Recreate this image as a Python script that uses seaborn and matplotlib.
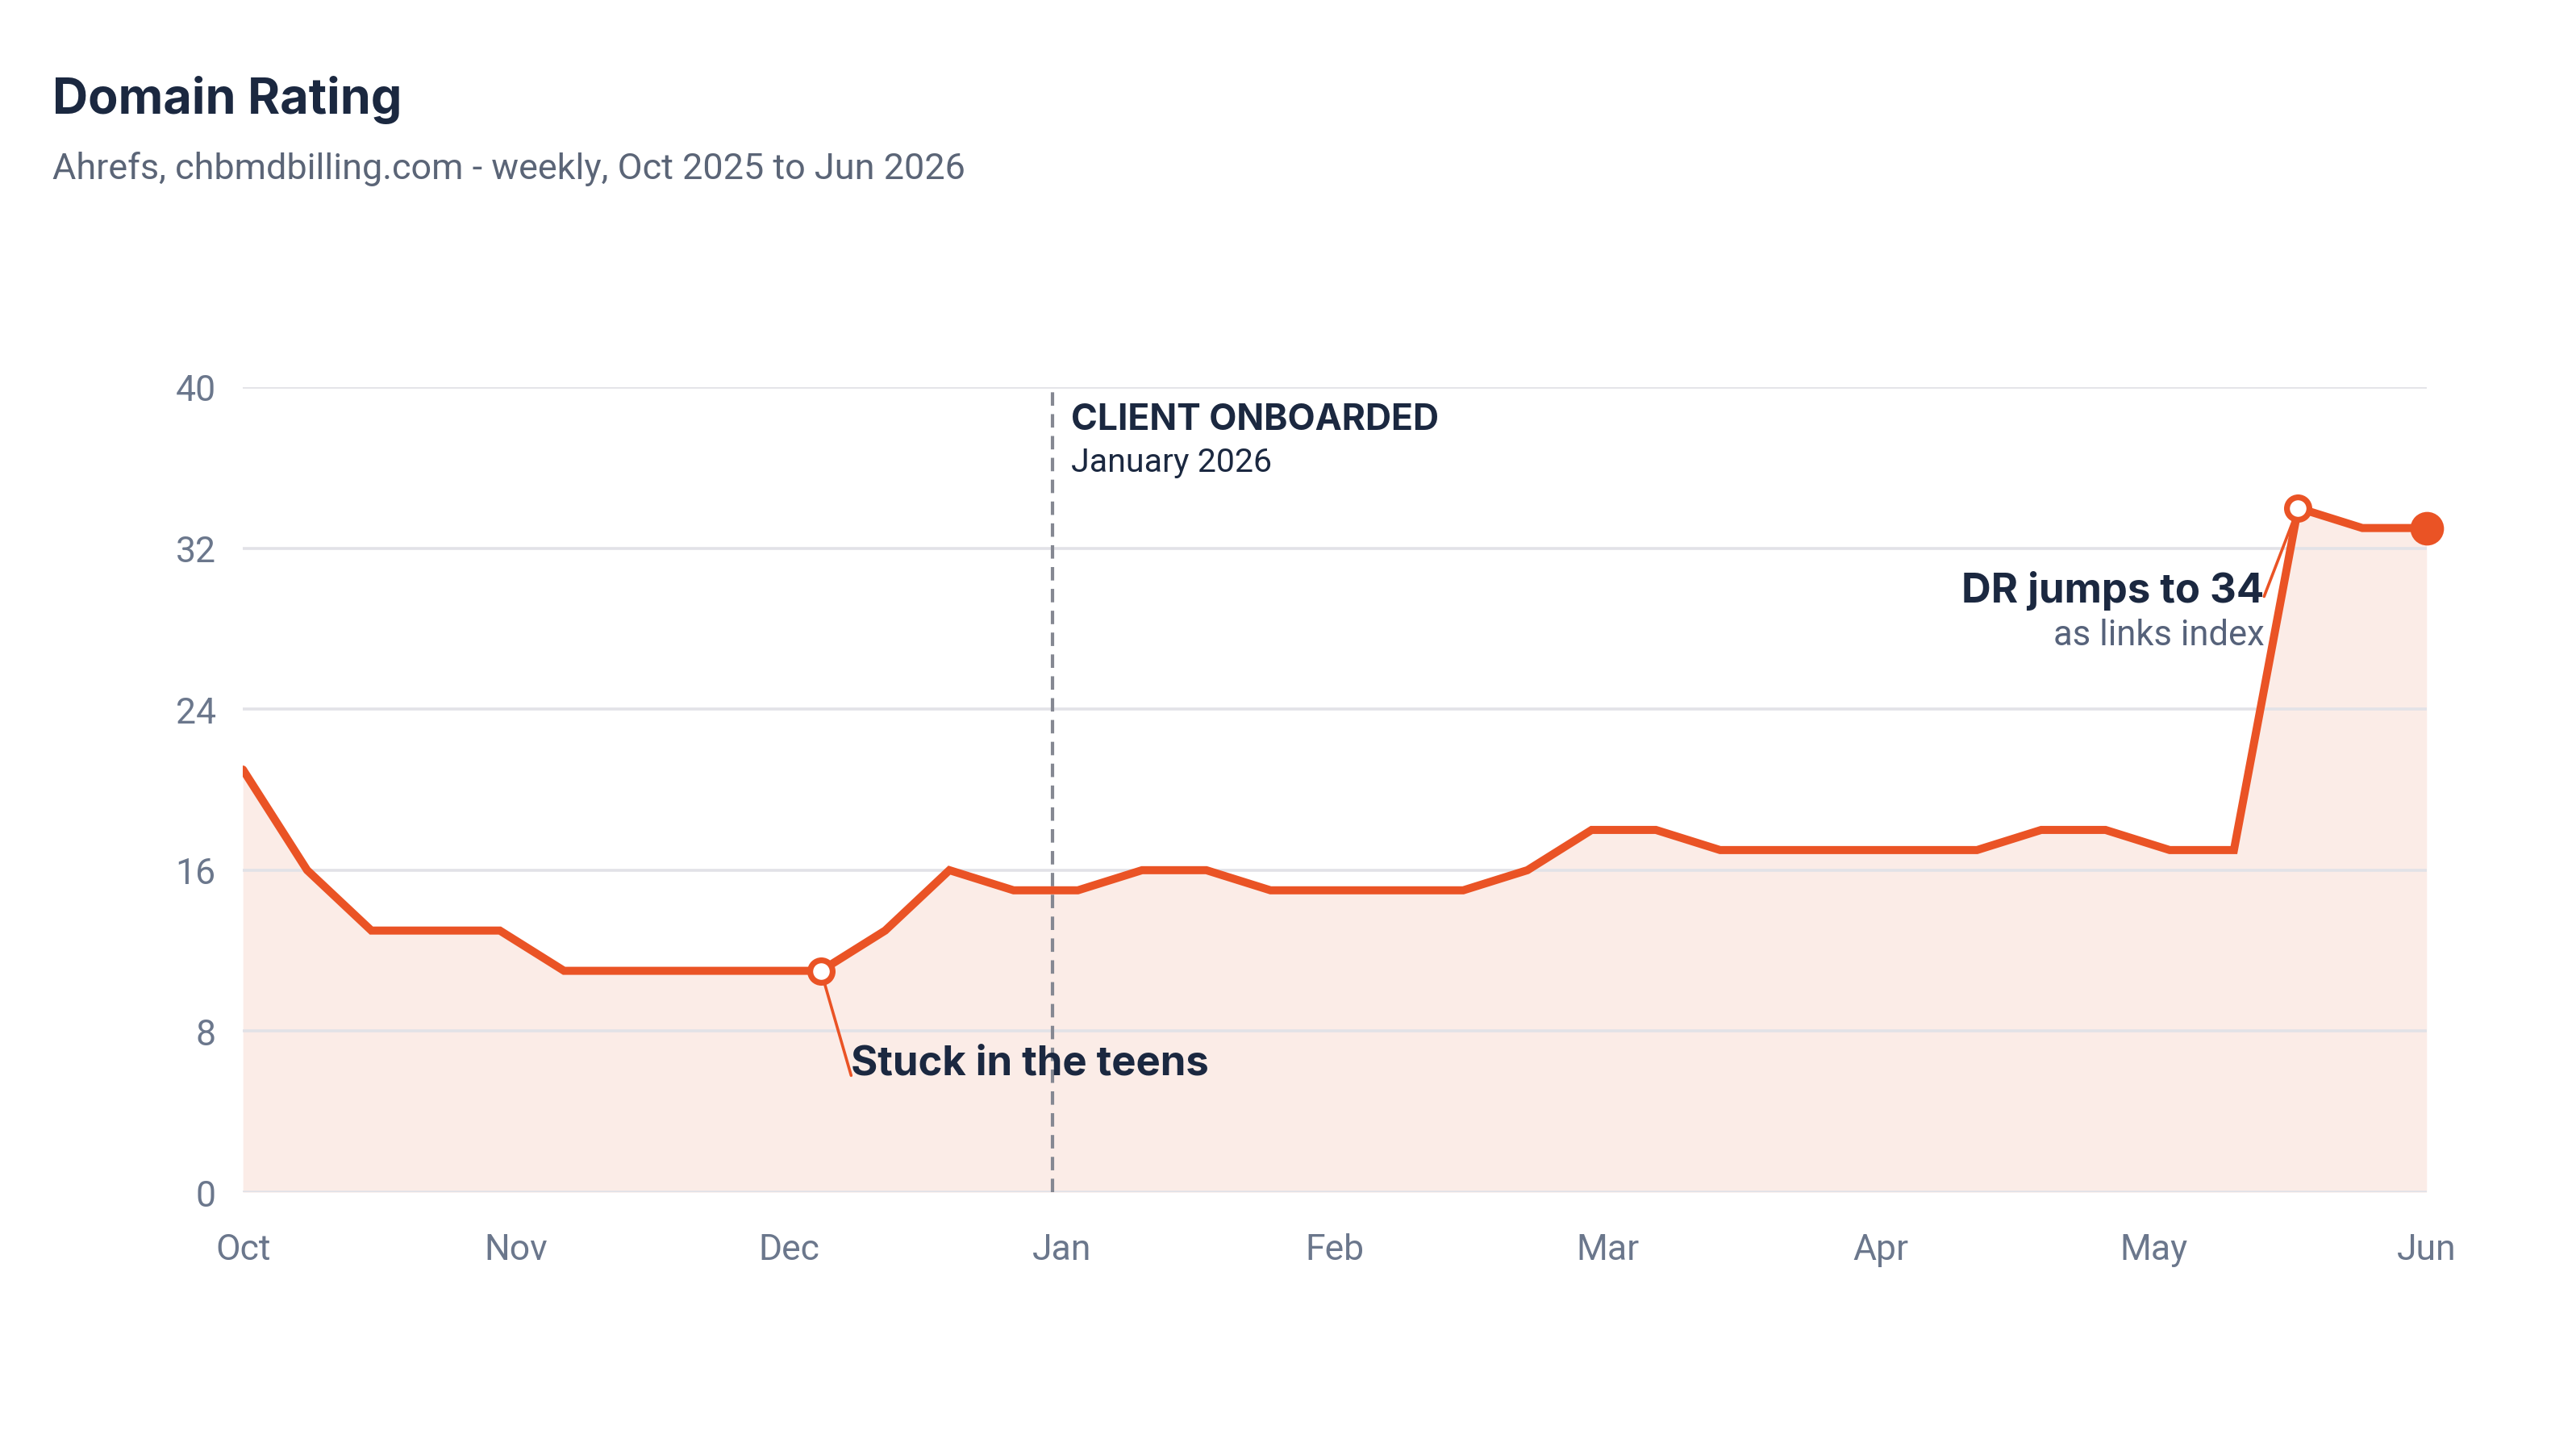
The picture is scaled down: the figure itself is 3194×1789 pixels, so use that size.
import numpy as np
import pandas as pd
import seaborn as sns
import matplotlib.pyplot as plt

# data (weekly Domain Rating, Oct 2025 -> Jun 2026)
dr_values = [21, 16, 13, 13, 13, 11, 11, 11, 11, 11, 13, 16, 15, 15, 16, 16, 15, 15,
             15, 15, 16, 18, 18, 17, 17, 17, 17, 17, 18, 18, 17, 17, 34, 33, 33]
month_labels = ["Oct", "Nov", "Dec", "Jan", "Feb", "Mar", "Apr", "May", "Jun"]
y_ticks = [0, 8, 16, 24, 32, 40]
stuck_week = 9
jump_week = 32
onboard_week = 12.6

ORANGE = "#EA5325"
FILL = "#FBECE7"
NAVY = "#1B2840"
GREY = "#6B778C"

df = pd.DataFrame({"week": np.arange(len(dr_values)), "dr": dr_values})

sns.set_theme(style="white")
plt.rcParams['font.family'] = ['Roboto', 'DejaVu Sans']

fig = plt.figure(figsize=(15.97, 8.95), dpi=200)
ax = fig.add_axes([0.0943, 0.1737, 0.8477, 0.5576])

ax.fill_between(df["week"], df["dr"], 0, color=FILL, lw=0, zorder=1)
sns.lineplot(data=df, x="week", y="dr", color=ORANGE, lw=3.6, ax=ax, zorder=4,
             solid_joinstyle="miter")

# markers
ax.plot(df["week"][stuck_week], df["dr"][stuck_week], "o", ms=10, mfc="white",
        mec=ORANGE, mew=2.6, zorder=6, clip_on=False)
ax.plot(df["week"][jump_week], df["dr"][jump_week], "o", ms=10, mfc="white",
        mec=ORANGE, mew=2.6, zorder=6, clip_on=False)
last = len(dr_values) - 1
ax.plot(df["week"][last], df["dr"][last], "o", ms=14, color=ORANGE, zorder=6, clip_on=False)

# onboarding line
ax.axvline(onboard_week, color="#858892", lw=1.5, ls=(0, (4, 2.5)), zorder=3)
ax.text(onboard_week + 0.3, 38.4, "CLIENT ONBOARDED", family=["Inter", "DejaVu Sans"],
        fontweight="bold", fontsize=16, color=NAVY, va="center", ha="left")
ax.text(onboard_week + 0.3, 36.3, "January 2026", fontsize=14.8, color=NAVY,
        va="center", ha="left")

# annotations
ax.plot([stuck_week, 9.47], [dr_values[stuck_week], 5.8], color=ORANGE, lw=1.3, zorder=5)
ax.text(9.47, 6.4, "Stuck in the teens", family=["Inter", "DejaVu Sans"],
        fontweight="bold", fontsize=18.3, color=NAVY, va="center", ha="left", zorder=7)

ax.plot([jump_week, 31.47], [dr_values[jump_week], 29.6], color=ORANGE, lw=1.3, zorder=5)
ax.text(31.47, 29.9, "DR jumps to 34", family=["Inter", "DejaVu Sans"],
        fontweight="bold", fontsize=18.3, color=NAVY, va="center", ha="right", zorder=7)
ax.text(31.47, 27.7, "as links index", fontsize=15.7, color="#56627A",
        va="center", ha="right", zorder=7)

# axes styling
ax.set_xlim(0, last)
ax.set_ylim(0, 40)
ax.set_yticks(y_ticks)
ax.set_xticks(np.linspace(0, last, len(month_labels)))
ax.set_xticklabels(month_labels)
ax.set_xlabel("")
ax.set_ylabel("")
ax.tick_params(axis="both", length=0, labelsize=16, labelcolor=GREY)
ax.tick_params(axis="y", pad=12)
ax.tick_params(axis="x", pad=18)
ax.grid(axis="y", color="#E2E2E7", lw=1.3, zorder=2)
ax.set_axisbelow(False)
for s in ax.spines.values():
    s.set_visible(False)
for gl in ax.get_ygridlines():
    gl.set_zorder(2)

fig.text(0.0204, 0.931, "Domain Rating", family=["Inter", "DejaVu Sans"],
         fontweight="bold", fontsize=22, color=NAVY, va="center", ha="left")
fig.text(0.0204, 0.883, "Ahrefs, chbmdbilling.com - weekly, Oct 2025 to Jun 2026",
         fontsize=16.2, color="#5B6577", va="center", ha="left")

fig.savefig("out.png", dpi=200, facecolor="white")
